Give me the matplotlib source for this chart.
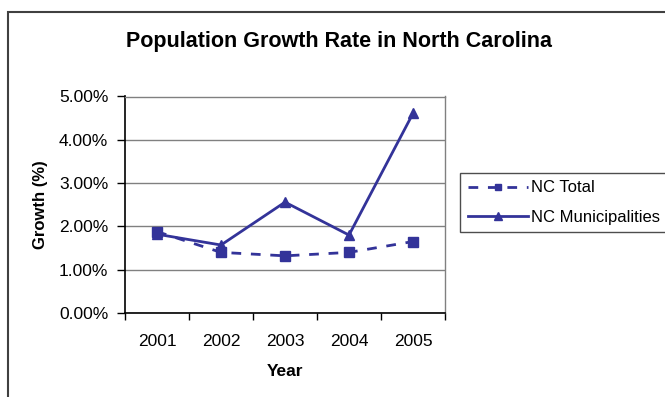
import matplotlib
matplotlib.use("Agg")
import matplotlib.pyplot as plt
from matplotlib.patches import Rectangle
from matplotlib.ticker import FuncFormatter, FixedLocator

plt.rcParams["font.family"] = ["Liberation Sans", "DejaVu Sans"]

years = ["2001", "2002", "2003", "2004", "2005"]
nc_total = [1.88, 1.40, 1.32, 1.40, 1.65]
nc_municipalities = [1.82, 1.57, 2.56, 1.80, 4.61]

W, H = 665, 397
fig = plt.figure(figsize=(W / 100, H / 100), dpi=100)

# outer chart frame (Excel chart area)
fig.patches.append(Rectangle((8 / W, -0.1), 1.2, 1 - 12 / H + 0.1,
                             transform=fig.transFigure, fill=False,
                             edgecolor="#404040", linewidth=1.5))

ax = fig.add_axes([125 / W, 1 - 313 / H, 320 / W, (313 - 96.5) / H])

navy = "#333399"
x = list(range(len(years)))
ax.plot(x, nc_total, color=navy, linewidth=2, linestyle=(0, (3.5, 3.5)),
        marker="s", markersize=6.5, label="NC Total")
ax.plot(x, nc_municipalities, color=navy, linewidth=2, linestyle="-",
        marker="^", markersize=7, label="NC Municipalities")

ax.set_xlim(-0.5, 4.5)
ax.set_ylim(0, 5)
ax.set_yticks([0, 1, 2, 3, 4, 5])
ax.yaxis.set_major_formatter(FuncFormatter(lambda v, p: f"{v:.2f}%"))
ax.yaxis.grid(True, color="#808080", linewidth=1)
ax.set_axisbelow(True)

ax.set_xticks(x)
ax.set_xticklabels(years)
ax.xaxis.set_minor_locator(FixedLocator([-0.5, 0.5, 1.5, 2.5, 3.5, 4.5]))
ax.tick_params(axis="x", which="major", length=0, pad=15, labelsize=12.5)
ax.tick_params(axis="x", which="minor", length=5, width=1, direction="out")
ax.tick_params(axis="y", length=6, width=1, direction="out", pad=6, labelsize=12.5)

for side in ["left", "bottom"]:
    ax.spines[side].set_color("black")
    ax.spines[side].set_linewidth(1.2)
for side in ["top", "right"]:
    ax.spines[side].set_color("#808080")
    ax.spines[side].set_linewidth(1)

fig.text(339 / W, 1 - 41 / H, "Population Growth Rate in North Carolina",
         ha="center", va="center", fontsize=15.5, fontweight="bold")
fig.text(40 / W, 1 - 205 / H, "Growth (%)", ha="center", va="center",
         rotation=90, fontsize=12, fontweight="bold")
fig.text(285 / W, 1 - 372 / H, "Year", ha="center", va="center",
         fontsize=12.5, fontweight="bold")

leg = fig.legend(loc="upper left", bbox_to_anchor=(460 / W, 1 - 173 / H),
                 frameon=True, fancybox=False, fontsize=12, handlelength=3.6,
                 handletextpad=0.2, labelspacing=0.85, borderpad=0.45,
                 borderaxespad=0, numpoints=1, markerscale=0.75)
leg.get_frame().set_edgecolor("#202020")
leg.get_frame().set_linewidth(1)

fig.savefig("out.png", dpi=100)
